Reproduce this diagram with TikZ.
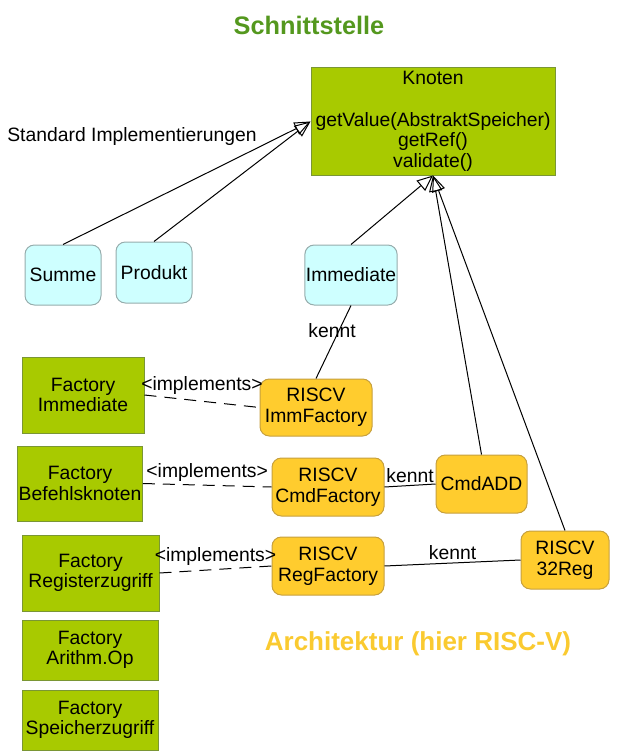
\documentclass[tikz,border=0pt]{standalone}
\usepackage{fontspec}
\setmainfont{Liberation Sans}
\usetikzlibrary{arrows.meta}

\definecolor{titelgruen}{RGB}{84,152,30}
\definecolor{archgelb}{RGB}{250,202,48}
\definecolor{knotengruen}{RGB}{168,202,0}
\definecolor{knotenrand}{RGB}{122,150,52}
\definecolor{implcyan}{RGB}{206,255,255}
\definecolor{implrand}{RGB}{150,172,172}
\definecolor{riscvgelb}{RGB}{255,204,46}
\definecolor{riscvrand}{RGB}{198,160,62}

\tikzset{every picture/.style={line width=0.75pt}}
\tikzset{
  schrift/.style={font=\fontsize{14.5}{15.5}\selectfont, align=center, inner sep=0.75pt},
  gruenbox/.style={schrift, draw=knotenrand, fill=knotengruen},
  cyanbox/.style={schrift, draw=implrand, fill=implcyan, rounded corners=7pt},
  gelbbox/.style={schrift, draw=riscvrand, fill=riscvgelb, rounded corners=7pt},
  erbt/.style={-{Triangle[open,length=12pt,width=10pt]}},
  kennt/.style={draw=black},
  impl/.style={dash pattern={on 9pt off 6pt}}
}

\begin{document}
\begin{tikzpicture}[x=0.75pt,y=0.75pt,yscale=-1,xscale=1]
        \useasboundingbox (0,0) rectangle (619,756);

        % Text Node
        \draw (309,25) node [font=\fontsize{19}{20}\selectfont\bfseries, text=titelgruen] (titel) {Schnittstelle};
        % Text Node
        \draw (418,644) node [font=\fontsize{19.5}{20}\selectfont\bfseries, text=archgelb] (arch) {Architektur (hier RISC-V)};
        % Text Node
        \draw (132,137) node [schrift] (standard) {Standard Implementierungen};

        %Shape: Rectangle
        \draw (433,121.5) node [gruenbox, minimum width=183pt, minimum height=80.25pt] (knoten) {Knoten\\[15.5pt]getValue(AbstraktSpeicher)\\getRef()\\validate()};

        %Shape: Rounded Rect
        \draw (63,275) node [cyanbox, minimum width=57pt, minimum height=45pt] (summe) {Summe};
        \draw (154,272.5) node [cyanbox, minimum width=57pt, minimum height=45.75pt] (produkt) {Produkt};
        \draw (351,275) node [cyanbox, minimum width=69pt, minimum height=45pt] (immediate) {Immediate};

        %Shape: Rectangle
        \draw (83,395) node [gruenbox, minimum width=91.5pt, minimum height=57pt] (facimm) {Factory\\Immediate};
        \draw (80,483.5) node [gruenbox, minimum width=91.5pt, minimum height=56.25pt] (facbefehl) {Factory\\Befehlsknoten};
        \draw (90.5,573) node [gruenbox, minimum width=102.75pt, minimum height=57pt] (facreg) {Factory\\Registerzugriff};
        \draw (90,650) node [gruenbox, minimum width=102pt, minimum height=45pt] (facarith) {Factory\\Arithm.Op};
        \draw (90,720) node [gruenbox, minimum width=102pt, minimum height=45pt] (facspeicher) {Factory\\Speicherzugriff};

        %Shape: Rounded Rect
        \draw (316,407.5) node [gelbbox, minimum width=84pt, minimum height=42.75pt] (immfac) {RISCV\\ImmFactory};
        \draw (328,487) node [gelbbox, minimum width=84pt, minimum height=43.5pt] (cmdfac) {RISCV\\CmdFactory};
        \draw (481.5,484) node [gelbbox, minimum width=68.25pt, minimum height=43.5pt] (cmdadd) {CmdADD};
        \draw (328,566) node [gelbbox, minimum width=84pt, minimum height=43.5pt] (regfac) {RISCV\\RegFactory};
        \draw (565,560) node [gelbbox, minimum width=66pt, minimum height=43.5pt] (reg32) {RISCV\\32Reg};

        %Straight Lines
        \draw [erbt] (summe.north) -- (knoten.west);
        \draw [erbt] (produkt.north) -- (knoten.west);
        \draw [erbt] (immediate.north) -- (knoten.south);
        \draw [erbt] (cmdadd.north) -- (knoten.south);
        \draw [erbt] (reg32.north) -- (knoten.south);

        %Straight Lines
        \draw [kennt] (immediate.south) -- (immfac.north) node [schrift, pos=0.35, xshift=-5] {kennt};
        \draw [kennt] (cmdfac.east) -- (cmdadd.west) node [schrift, midway, above=1] {kennt};
        \draw [kennt] (regfac.east) -- (reg32.west) node [schrift, midway, above=1] {kennt};

        %Straight Lines
        \draw [impl] (facimm.east) -- (immfac.west) node [schrift, midway, above=4] {<implements>};
        \draw [impl] (facbefehl.east) -- (cmdfac.west) node [schrift, midway, above=2] {<implements>};
        \draw [impl] (facreg.east) -- (regfac.west) node [schrift, midway, above=2] {<implements>};
\end{tikzpicture}
\end{document}
